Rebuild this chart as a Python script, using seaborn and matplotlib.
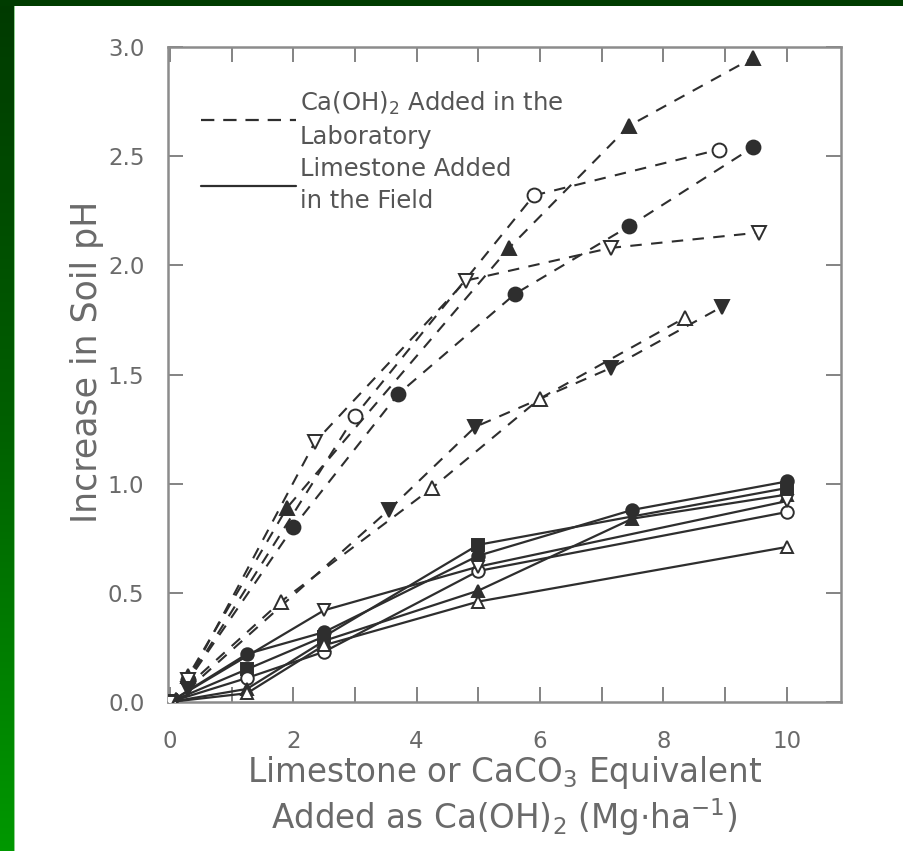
import numpy as np
import pandas as pd
import matplotlib
matplotlib.use("Agg")
import matplotlib.pyplot as plt
from matplotlib.lines import Line2D
from matplotlib.patches import Rectangle
from matplotlib.colors import LinearSegmentedColormap
import seaborn as sns

# ---------------- data ----------------
# Laboratory Ca(OH)2 additions (dashed lines)
lab_tri_f_x = [0, 0.3, 1.9, 5.5, 7.45, 9.45]
lab_tri_f_y = [0, 0.12, 0.89, 2.08, 2.64, 2.95]
lab_circ_o_x = [0, 0.3, 3.0, 5.9, 8.9]
lab_circ_o_y = [0, 0.10, 1.31, 2.32, 2.53]
lab_circ_f_x = [0, 0.3, 2.0, 3.7, 5.6, 7.45, 9.45]
lab_circ_f_y = [0, 0.10, 0.80, 1.41, 1.87, 2.18, 2.54]
lab_inv_o_x = [0, 0.3, 2.35, 4.8, 7.15, 9.55]
lab_inv_o_y = [0, 0.10, 1.19, 1.93, 2.08, 2.15]
lab_inv_f_x = [0, 0.3, 3.55, 4.95, 7.15, 8.95]
lab_inv_f_y = [0, 0.06, 0.88, 1.26, 1.53, 1.81]
lab_tri_o_x = [0, 1.8, 4.25, 6.0, 8.35]
lab_tri_o_y = [0, 0.46, 0.98, 1.39, 1.76]

# Field limestone additions (solid lines)
fld_circ_f_x = [0, 1.25, 2.5, 5, 7.5, 10]
fld_circ_f_y = [0, 0.22, 0.32, 0.67, 0.88, 1.01]
fld_sq_x = [0, 1.25, 2.5, 5, 10]
fld_sq_y = [0, 0.15, 0.30, 0.72, 0.98]
fld_circ_o_x = [0, 1.25, 2.5, 5, 10]
fld_circ_o_y = [0, 0.11, 0.23, 0.60, 0.87]
fld_tri_f_x = [0, 1.25, 2.5, 5, 7.5, 10]
fld_tri_f_y = [0, 0.06, 0.28, 0.51, 0.84, 0.95]
fld_tri_o_x = [0, 1.25, 2.5, 5, 10]
fld_tri_o_y = [0, 0.04, 0.26, 0.46, 0.71]
fld_inv_o_x = [0, 2.5, 5, 10]
fld_inv_o_y = [0, 0.42, 0.62, 0.92]

y_ticks = [0.0, 0.5, 1.0, 1.5, 2.0, 2.5, 3.0]
x_ticks = [0, 2, 4, 6, 8, 10]

legend_labels = ["Ca(OH)$_2$ Added in the\nLaboratory",
                 "Limestone Added\nin the Field"]
y_label = "Increase in Soil pH"
x_label = "Limestone or CaCO$_3$ Equivalent\nAdded as Ca(OH)$_2$ (Mg$\\cdot$ha$^{-1}$)"

lab_series = [
    (lab_tri_f_x, lab_tri_f_y, "^", True),
    (lab_circ_o_x, lab_circ_o_y, "o", False),
    (lab_circ_f_x, lab_circ_f_y, "o", True),
    (lab_inv_o_x, lab_inv_o_y, "v", False),
    (lab_inv_f_x, lab_inv_f_y, "v", True),
    (lab_tri_o_x, lab_tri_o_y, "^", False),
]
fld_series = [
    (fld_circ_f_x, fld_circ_f_y, "o", True),
    (fld_sq_x, fld_sq_y, "s", True),
    (fld_circ_o_x, fld_circ_o_y, "o", False),
    (fld_tri_f_x, fld_tri_f_y, "^", True),
    (fld_tri_o_x, fld_tri_o_y, "^", False),
    (fld_inv_o_x, fld_inv_o_y, "v", False),
]

# ---------------- style ----------------
sns.set_style("ticks")
plt.rcParams["font.family"] = ["DejaVu Sans"]

W, H = 904, 851
fig = plt.figure(figsize=(W / 100, H / 100), dpi=100, facecolor="white")

# background decoration: green strips
bg = fig.add_axes([0, 0, 14 / W, 1])
cmap = LinearSegmentedColormap.from_list("g", ["#003a00", "#006000", "#009800"])
bg.imshow(np.linspace(0, 1, 256).reshape(-1, 1), aspect="auto", cmap=cmap,
          extent=[0, 1, 0, 1], origin="upper")
bg.set_axis_off()
fig.patches.append(Rectangle((0, 1 - 6 / H), 1, 6 / H, transform=fig.transFigure,
                             facecolor="#003c00", edgecolor="none", zorder=5))
fig.patches.append(Rectangle((14 / W, 0), 1.2 / W, 1 - 6 / H, transform=fig.transFigure,
                             facecolor="#8fcf8f", edgecolor="none", zorder=5))

ax = fig.add_axes([168 / W, 1 - 702 / H, (841 - 168) / W, (702 - 47) / H])
ax.set_facecolor("white")

line_col = "#2e2e2e"
dash = (0, (5.5, 4.5))

for xs, ys, m, filled in lab_series:
    df = pd.DataFrame({"x": xs, "y": ys})
    sns.lineplot(data=df, x="x", y="y", ax=ax, color=line_col, linewidth=1.5,
                 linestyle=dash, marker=m, markersize=10,
                 markerfacecolor=line_col if filled else "white",
                 markeredgecolor=line_col, markeredgewidth=1.4,
                 estimator=None, sort=False, legend=False, zorder=3)

for xs, ys, m, filled in fld_series:
    df = pd.DataFrame({"x": xs, "y": ys})
    sns.lineplot(data=df, x="x", y="y", ax=ax, color=line_col, linewidth=1.6,
                 linestyle="-", marker=m, markersize=9,
                 markerfacecolor=line_col if filled else "white",
                 markeredgecolor=line_col, markeredgewidth=1.4,
                 estimator=None, sort=False, legend=False, zorder=3)

ax.set_xlim(-0.03, 10.88)
ax.set_ylim(0, 3.0)

txt_col = "#6a6a6a"
ax.set_xticks(x_ticks)
ax.set_xticks(range(0, 11), minor=True)
ax.set_yticks(y_ticks)
ax.set_yticklabels([f"{v:.1f}" for v in y_ticks])
ax.set_xticklabels([str(v) for v in x_ticks])
ax.tick_params(axis="both", which="both", direction="in", length=11, width=1.3,
               color="#7a7a7a", top=True, right=True, labelsize=16.5, labelcolor=txt_col)
ax.tick_params(axis="x", which="both", pad=20)
ax.tick_params(axis="y", which="both", pad=17)

for s in ax.spines.values():
    s.set_visible(True)
    s.set_color("#8c8c8c")
    s.set_linewidth(1.8)

ax.set_ylabel(y_label, fontsize=25, color=txt_col)
ax.yaxis.set_label_coords(-(168 - 104) / 673, 0.52)
ax.set_xlabel(x_label, fontsize=23.5, color=txt_col, linespacing=1.15)
ax.xaxis.set_label_coords(0.5, -(754 - 702) / 655)

handles = [Line2D([], [], color=line_col, linewidth=1.6, linestyle=(0, (6, 4))),
           Line2D([], [], color=line_col, linewidth=1.6, linestyle="-")]
leg = ax.legend(handles, legend_labels, loc="upper left", frameon=False,
                bbox_to_anchor=(0.035, 0.95), handlelength=3.9, handletextpad=0.15,
                fontsize=17.5, labelspacing=0.3, borderaxespad=0)
for t in leg.get_texts():
    t.set_color("#555555")
    t.set_linespacing(1.45)

fig.savefig("out.png", dpi=100, facecolor="white")
